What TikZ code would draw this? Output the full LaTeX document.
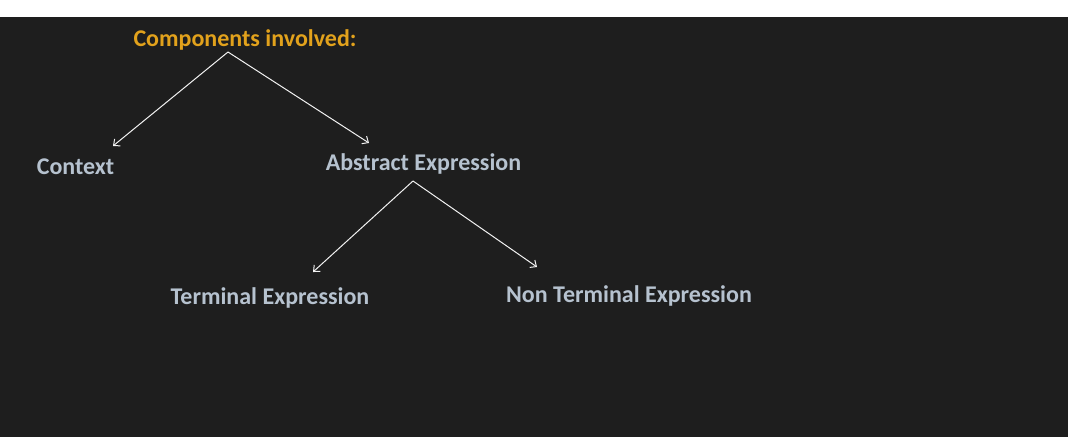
\documentclass[tikz,border=0pt]{standalone}
\usepackage{fontspec}
\setmainfont{Carlito}
\usetikzlibrary{arrows.meta}
\definecolor{bgdark}{HTML}{1E1E1E}
\definecolor{titleorange}{HTML}{E2A21C}
\definecolor{itemgrey}{HTML}{B6C2CF}
\definecolor{arrowwhite}{HTML}{F2F2F2}
\tikzset{
  titletext/.style={text=titleorange, font=\fontsize{24}{28}\selectfont\bfseries, inner sep=0pt, anchor=center},
  itemtext/.style={text=itemgrey, font=\fontsize{24}{28}\selectfont\bfseries, inner sep=0pt, anchor=center},
  link/.style={draw=arrowwhite, line width=1pt, -{Straight Barb[length=5pt,width=9pt]}}
}
\begin{document}
\begin{tikzpicture}[x=1pt,y=-1pt]
\useasboundingbox (0,0) rectangle (1070,437);
\fill[white] (0,0) rectangle (1070,437);
\fill[bgdark] (0,17) rectangle (1068,437);
\node[titletext] (title) at (245,39.5) {Components involved:};
\node[itemtext] (context) at (75.5,166.5) {Context};
\node[itemtext] (abstract) at (423.5,163.5) {Abstract Expression};
\node[itemtext] (terminal) at (270,297.5) {Terminal Expression};
\node[itemtext] (nonterminal) at (629,295.5) {Non Terminal Expression};
\coordinate (titlefoot) at (228,52);
\coordinate (abstractfoot) at (413,181);
\coordinate (contexttip) at (113,146);
\coordinate (abstracttip) at (369,143);
\coordinate (terminaltip) at (313,272);
\coordinate (nonterminaltip) at (537,267);
\draw[link] (titlefoot) -- (contexttip);
\draw[link] (titlefoot) -- (abstracttip);
\draw[link] (abstractfoot) -- (terminaltip);
\draw[link] (abstractfoot) -- (nonterminaltip);
\end{tikzpicture}
\end{document}
